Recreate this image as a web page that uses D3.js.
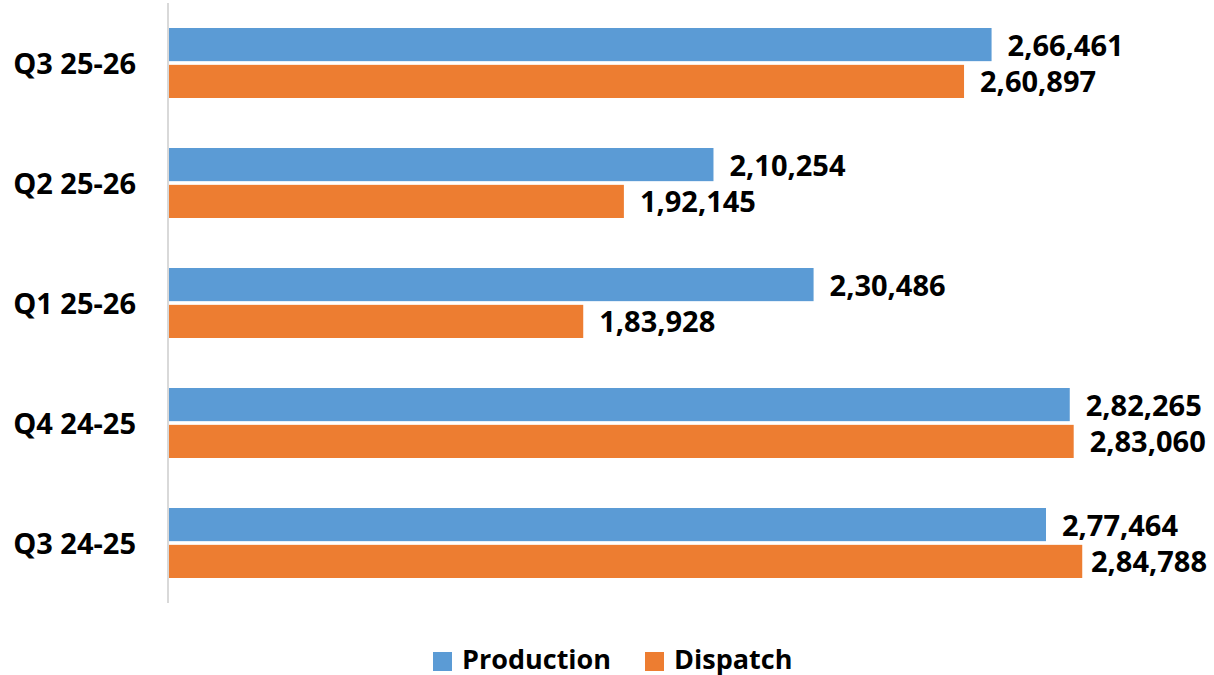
<!DOCTYPE html>
<html>
<head>
<meta charset="utf-8">
<script src="https://cdn.jsdelivr.net/npm/d3@7"></script>
<style>
  html, body { margin: 0; padding: 0; background: #ffffff; }
  svg { display: block; }
  text { font-family: "Open Sans", "Lato", sans-serif; font-weight: 700; fill: #000; }
</style>
</head>
<body>
<svg id="chart" width="1214" height="675"></svg>
<script>
const categories = ["Q3 25-26", "Q2 25-26", "Q1 25-26", "Q4 24-25", "Q3 24-25"];
const seriesNames = ["Production", "Dispatch"];
const production = [266461, 210254, 230486, 282265, 277464];
const dispatch = [260897, 192145, 183928, 283060, 284788];
const labelsProduction = ["2,66,461", "2,10,254", "2,30,486", "2,82,265", "2,77,464"];
const labelsDispatch = ["2,60,897", "1,92,145", "1,83,928", "2,83,060", "2,84,788"];
const colors = ["#5B9BD5", "#ED7D31"];
const xDomain = [100000, 300000];

const svg = d3.select("#chart");
const labelSize = 29;
const legendSize = 27;
const rightLimit = 1207;

const x = d3.scaleLinear().domain(xDomain).range([168, 1157.5]);
const y = d3.scaleBand().domain(categories).range([3, 603]).paddingInner(0.4167).paddingOuter(0.4167 / 2);
const y1 = d3.scaleBand().domain(seriesNames).range([0, y.bandwidth()]).paddingInner(0.1);

const rows = categories.map((c, i) => ({
  cat: c,
  vals: [
    { s: "Production", v: production[i], label: labelsProduction[i] },
    { s: "Dispatch", v: dispatch[i], label: labelsDispatch[i] }
  ]
}));

const g = svg.selectAll("g.cat").data(rows).join("g")
  .attr("class", "cat")
  .attr("transform", d => `translate(0,${y(d.cat)})`);

g.selectAll("rect").data(d => d.vals).join("rect")
  .attr("x", x(xDomain[0]))
  .attr("y", d => y1(d.s))
  .attr("width", d => x(d.v) - x(xDomain[0]))
  .attr("height", y1.bandwidth())
  .attr("fill", d => colors[seriesNames.indexOf(d.s)]);

g.selectAll("text.val").data(d => d.vals).join("text")
  .attr("class", "val")
  .attr("x", d => x(d.v) + 16)
  .attr("y", d => y1(d.s) + y1.bandwidth() / 2 + 11)
  .attr("font-size", labelSize)
  .text(d => d.label)
  .each(function(d) {
    const w = this.getComputedTextLength();
    const x0 = x(d.v) + 16;
    if (x0 + w > rightLimit) d3.select(this).attr("x", rightLimit - w);
  });

// category axis line
svg.append("line")
  .attr("x1", 168).attr("x2", 168)
  .attr("y1", 3).attr("y2", 603)
  .attr("stroke", "#D9D9D9").attr("stroke-width", 2);

// category labels
svg.selectAll("text.catlabel").data(categories).join("text")
  .attr("class", "catlabel")
  .attr("x", 136)
  .attr("text-anchor", "end")
  .attr("y", d => y(d) + y.bandwidth() / 2 + 10.5)
  .attr("font-size", labelSize)
  .text(d => d);

// legend
const legendX = [433, 645];
const lg = svg.selectAll("g.legend").data(seriesNames).join("g")
  .attr("class", "legend")
  .attr("transform", (d, i) => `translate(${legendX[i]},652)`);
lg.append("rect").attr("width", 19).attr("height", 19).attr("fill", (d, i) => colors[i]);
lg.append("text").attr("x", 29).attr("y", 16.5).attr("font-size", legendSize).text(d => d);
</script>
</body>
</html>
